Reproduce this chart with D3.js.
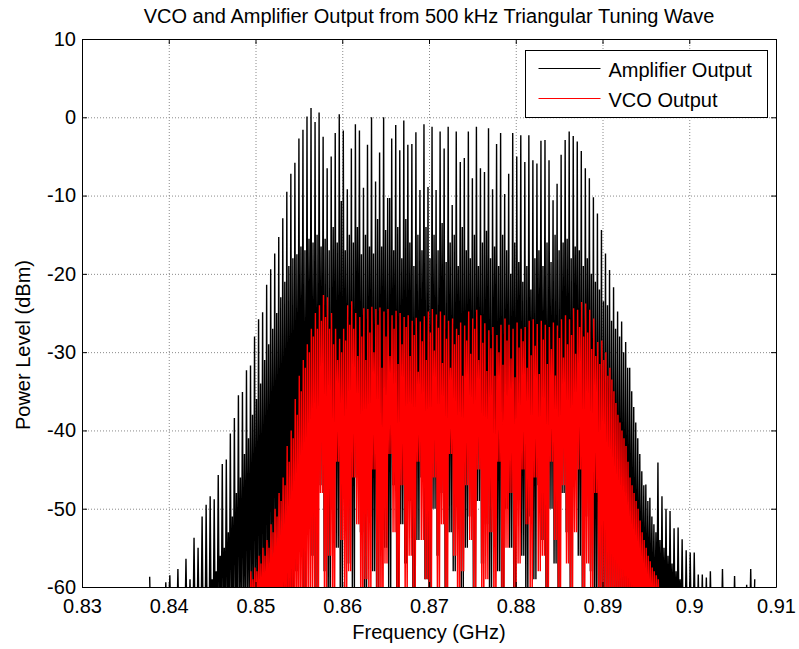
<!DOCTYPE html>
<html>
<head>
<meta charset="utf-8">
<script src="https://cdn.jsdelivr.net/npm/d3@7"></script>
<style>
body { margin: 0; background: #fff; }
svg { font-family: "Liberation Sans", Arial, sans-serif; }
</style>
</head>
<body>
<svg width="799" height="649"></svg>
<script>
// spectral lines: first line and spacing in MHz, levels in dBm
const ampStart = 837.8, ampStep = 0.465;
const ampPeak = [
  -58.7, -62, -62, -62, -59.4, -58.5, -62, -57.7, -62, -56.4,
  -59, -53.7, -55.0, -51, -49.5, -48.4, -48.8, -45.7, -44.3, -43.7,
  -40.4, -38.4, -35.5, -35.1, -32.3, -31.7, -28.0, -25.8, -24.9, -21.4,
  -19.4, -17.4, -15.3, -12.9, -9.5, -7.2, -5.8, -2.7, -1.6, 0.1,
  1.2, -0.6, 0.6, -2.5, -6.5, -5.0, -2.0, 0.4, -1.7, -9.2,
  -4.0, -0.9, -1.7, -9.0, -3.5, 0.0, -8.2, -4.5, 0.0, -10.3,
  -2.7, -1.0, -4.2, -0.4, -3.5, -3.4, -1.9, -9.3, -0.9, -8.9,
  -1.2, -9.3, -1.8, -4.0, -1.2, -11.2, -1.8, -5.7, -5.2, -1.8,
  -7.8, -1.2, -6.5, -7.0, -1.4, -9.2, -3.4, -2.0, -9.8, -7.2,
  -2.0, -5.0, -2.3, -5.7, -2.3, -5.5, -5.9, -3.0, -2.9, -5.5,
  -10.6, -8.5, -4.8, -2.9, -1.8, -2.4, -3.1, -4.3, -6.5, -7.8,
  -10.2, -12.3, -14.4, -17.4, -19.5, -21.7, -24.8, -26.1, -28.7, -32,
  -37, -41, -45.2, -46.9, -48.6, -52, -44.1, -48.4, -50, -50.3,
  -52.5, -52.4, -53.9, -55.3, -55.6, -55.6, -58.4, -58.4, -58.8, -58,
  -62, -62, -57.7, -62, -62, -58.6, -62, -62, -59.7, -57.7,
  -59
];
const ampMid = [
  -65, -65, -65, -65, -65, -65, -65, -65, -65, -65,
  -65, -65, -65, -62, -61, -59, -58, -56, -55, -53,
  -51, -48, -46, -43, -41, -38, -36, -34, -31, -29,
  -27, -25, -23, -21, -19, -18, -17.5, -16.5, -17, -15.5,
  -16, -15, -16.5, -15.5, -17, -14, -16, -10.7, -17, -15,
  -16, -14, -17.5, -15, -16.5, -17.4, -13, -16.5, -14.4, -10.3,
  -17, -14, -18, -13, -16, -19, -15, -17, -14, -18,
  -15, -17, -13.5, -18.5, -16, -15, -19, -14, -17, -18,
  -15, -19, -16, -14.5, -18, -16.5, -19, -15, -17, -20,
  -16, -18.5, -21, -19, -22, -18, -17, -19, -16, -18.5,
  -15, -17, -16, -15.5, -18, -16.5, -17, -19, -18, -20,
  -21, -22, -23.5, -24, -26, -27, -28, -30, -32, -35,
  -39, -43, -47, -49, -51, -53, -54, -55, -56, -57,
  -58, -59, -60, -61, -65, -65, -65, -65, -65, -65,
  -65, -65, -65, -65, -65, -65, -65, -65, -65, -65,
  -65
];
const ampLow = [
  -65, -65, -65, -65, -65, -65, -65, -65, -65, -65,
  -65, -65, -65, -65, -65, -65, -65, -65, -65, -65,
  -65, -65, -65, -65, -65, -65, -65, -65, -65, -65,
  -62, -62, -62, -62, -62, -62, -58, -52, -63, -49,
  -56, -61, -47, -58, -64, -50, -55, -62, -48, -57,
  -60, -46, -53, -64, -51, -58, -62, -49, -55, -60,
  -47, -63, -52, -57, -49, -61, -54, -46, -59, -64,
  -50, -56, -48, -62, -53, -58, -47, -60, -55, -51,
  -63, -49, -57, -52, -61, -46, -58, -64, -50, -55,
  -60, -48, -56, -62, -51, -59, -47, -54, -63, -50,
  -57, -61, -48, -53, -60, -46, -56, -62, -51, -58,
  -64, -65, -65, -65, -65, -65, -65, -65, -65, -65,
  -65, -65, -65, -65, -65, -65, -65, -65, -65, -65,
  -65, -65, -65, -65, -65, -65, -65, -65, -65, -65,
  -65, -65, -65, -65, -65, -65, -65, -65, -65, -65,
  -65
];

const vcoStart = 849.0, vcoStep = 0.465;
const vcoPeak = [
  -60, -58, -57.5, -56, -55, -54, -52, -50, -48, -46,
  -42, -40, -36, -33, -31, -29, -27, -25, -24, -22.7,
  -23, -25, -27, -28.3, -27, -24, -23.5, -25, -25.5, -24.4,
  -24.5, -24.2, -24.5, -24.3, -24.8, -24.5, -25.3, -24.7, -25, -25.5,
  -25.3, -26, -25.6, -26.1, -25.4, -24.8, -24.5, -25.2, -24.8, -25.3,
  -26, -25.7, -27, -26.2, -26.6, -24.8, -25.7, -24.6, -25.3, -26.3,
  -27.2, -26.8, -27.8, -26.5, -25.7, -26.5, -27, -26.2, -27, -26.8,
  -26, -25.8, -26.4, -26, -26.5, -26.8, -26.2, -26.6, -25.8, -25.3,
  -25.8, -24.4, -24.6, -23.6, -23.8, -24.6, -25.7, -28.7, -28.5, -30,
  -32, -35, -38, -40, -42, -46, -48, -50, -53, -55,
  -56.7, -58, -59, -60
];
const vcoMid = [
  -62, -59, -58, -57, -56, -55, -53, -51, -49, -47,
  -44, -41, -38, -35, -32, -30, -28, -27, -26, -25.5,
  -27, -29, -31, -30, -28.5, -26.5, -27, -30.5, -28, -31,
  -27.5, -30, -26.5, -32, -28, -30.5, -27, -31.5, -29, -26.8,
  -30.5, -27.8, -32.5, -28.6, -31, -27.5, -29.8, -26.9, -31.4, -28.3,
  -32, -29, -27.8, -33, -28.5, -30.2, -27, -31, -28.8, -32.4,
  -29.5, -33, -30, -31.6, -28.5, -30.8, -33.2, -29.4, -28.6, -32,
  -30.4, -29.2, -32.8, -28.4, -31.5, -29.6, -33, -28.2, -30.7, -29,
  -27.8, -30.2, -26.8, -28, -27.5, -29.6, -30.5, -31.5, -31, -33,
  -33.5, -36.5, -39, -41, -44, -47, -49, -51.5, -54, -56,
  -57.5, -58.5, -60, -62
];
const vcoLow = [
  -65, -65, -65, -65, -65, -65, -65, -65, -65, -65,
  -65, -65, -65, -65, -65, -62, -60, -64, -48, -62,
  -56, -65, -44, -54, -63, -58, -46, -52, -64, -59,
  -62, -45, -61, -65, -57, -43, -53, -64, -47, -62,
  -56, -61, -44, -54, -59, -63, -46, -62, -52, -65,
  -43, -56, -63, -58, -47, -54, -61, -45, -63, -59,
  -53, -64, -44, -62, -55, -48, -60, -57, -45, -52,
  -61, -46, -58, -56, -63, -44, -54, -64, -47, -57,
  -62, -53, -45, -64, -57, -62, -48, -64, -60, -65,
  -65, -65, -65, -65, -65, -65, -65, -65, -65, -65,
  -65, -65, -65, -65
];

const xTicks = [0.83, 0.84, 0.85, 0.86, 0.87, 0.88, 0.89, 0.9, 0.91];
const yTicks = [-60, -50, -40, -30, -20, -10, 0, 10];

const svg = d3.select('svg');
const margin = {left: 82, right: 23, top: 39, bottom: 62};
const width = 799 - margin.left - margin.right;
const height = 649 - margin.top - margin.bottom;

const x = d3.scaleLinear().domain([0.83, 0.91]).range([0, width]);
const y = d3.scaleLinear().domain([-60, 10]).range([height, 0]);

const g = svg.append('g').attr('transform', `translate(${margin.left},${margin.top})`);

g.append('clipPath').attr('id', 'plot')
  .append('rect').attr('width', width).attr('height', height);

// dotted grid
g.append('g').selectAll('line').data(xTicks.slice(1, -1)).enter().append('line')
  .attr('x1', d => x(d) + 0.5).attr('x2', d => x(d) + 0.5)
  .attr('y1', 0).attr('y2', height)
  .attr('stroke', '#8a8a8a').attr('stroke-dasharray', '1,2');
g.append('g').selectAll('line').data(yTicks.slice(1, -1)).enter().append('line')
  .attr('y1', d => y(d) + 0.5).attr('y2', d => y(d) + 0.5)
  .attr('x1', 0).attr('x2', width)
  .attr('stroke', '#8a8a8a').attr('stroke-dasharray', '1,2');

// each line: peak, dip, smaller spur, dip, next peak
function trace(start, step, peak, mid, low) {
  const pts = [];
  peak.forEach((p, i) => {
    const f = start + i * step;
    pts.push([f, p]);
    if (i < peak.length - 1) {
      pts.push([f + step * 0.25, low[i]]);
      pts.push([f + step * 0.5, mid[i]]);
      pts.push([f + step * 0.75, low[i]]);
    }
  });
  return pts;
}

const line = d3.line()
  .x(d => x(d[0] / 1000))
  .y(d => y(d[1]));

const plot = g.append('g').attr('clip-path', 'url(#plot)');
plot.append('path')
  .attr('d', line(trace(ampStart, ampStep, ampPeak, ampMid, ampLow)))
  .attr('fill', 'none').attr('stroke', '#000').attr('stroke-width', 1.4);
plot.append('path')
  .attr('d', line(trace(vcoStart, vcoStep, vcoPeak, vcoMid, vcoLow)))
  .attr('fill', 'none').attr('stroke', '#ff0000').attr('stroke-width', 1.4);

// axes, ticks inside on all four sides
const fmtX = d => String(+d.toFixed(2));
g.append('g').attr('transform', `translate(0,${height})`)
  .call(d3.axisBottom(x).tickValues(xTicks).tickFormat(fmtX).tickSize(-5).tickSizeOuter(0).tickPadding(12));
g.append('g')
  .call(d3.axisTop(x).tickValues(xTicks).tickFormat('').tickSize(-5).tickSizeOuter(0));
g.append('g')
  .call(d3.axisLeft(y).tickValues(yTicks).tickFormat(d => String(d)).tickSize(-5).tickSizeOuter(0).tickPadding(6));
g.append('g').attr('transform', `translate(${width},0)`)
  .call(d3.axisRight(y).tickValues(yTicks).tickFormat('').tickSize(-5).tickSizeOuter(0));

g.selectAll('.tick text').attr('font-size', 20).attr('font-family', '"Liberation Sans", Arial, sans-serif').attr('fill', '#000');
g.selectAll('.domain, .tick line').attr('stroke', '#000');

// titles
svg.append('text').attr('x', margin.left + width / 2).attr('y', 23)
  .attr('text-anchor', 'middle').attr('font-size', 20)
  .text('VCO and Amplifier Output from 500 kHz Triangular Tuning Wave');
svg.append('text').attr('x', margin.left + width / 2).attr('y', 639)
  .attr('text-anchor', 'middle').attr('font-size', 20)
  .text('Frequency (GHz)');
svg.append('text').attr('transform', 'translate(30,345) rotate(-90)')
  .attr('text-anchor', 'middle').attr('font-size', 20)
  .text('Power Level (dBm)');

// legend
const legend = [
  {name: 'Amplifier Output', color: '#000'},
  {name: 'VCO Output', color: '#ff0000'}
];
const lg = svg.append('g').attr('transform', 'translate(525.5,50.5)');
lg.append('rect').attr('width', 242).attr('height', 67)
  .attr('fill', '#fff').attr('stroke', '#000');
const item = lg.selectAll('g.item').data(legend).enter().append('g')
  .attr('class', 'item')
  .attr('transform', (d, i) => `translate(0,${18 + i * 30})`);
item.append('line').attr('x1', 13).attr('x2', 75)
  .attr('stroke', d => d.color);
item.append('text').attr('x', 83).attr('y', 8).attr('font-size', 20)
  .text(d => d.name);
</script>
</body>
</html>
